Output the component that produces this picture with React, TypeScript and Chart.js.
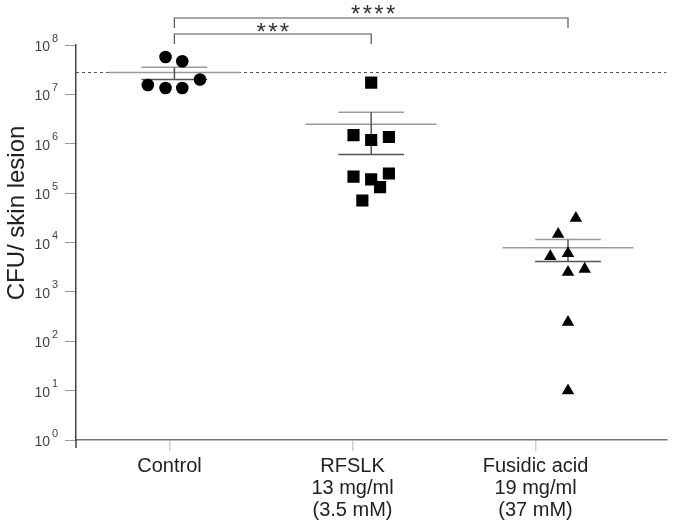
import React, { useEffect, useRef } from 'react';
import { Chart, registerables } from 'chart.js';

Chart.register(...registerables);

const FONT = '"Liberation Sans", Arial, Helvetica, sans-serif';

// Category labels (multi-line) and where their ticks sit on the x scale
const categories: string[][] = [
  ['Control'],
  ['RFSLK', '13 mg/ml', '(3.5 mM)'],
  ['Fusidic acid', '19 mg/ml', '(37 mM)'],
];
const categoryTickPositions = [0.975, 1.905, 2.835];
const groupCenters = [1, 2, 3];

// Individual CFU counts per skin lesion
const controlValues = [5.7e7, 4.7e7, 2.0e7, 1.55e7, 1.35e7, 1.35e7];
const controlOffsets = [-0.045, 0.04, 0.13, -0.135, -0.045, 0.04];

const rfslkValues = [1.73e7, 1.5e6, 1.37e6, 1.19e6, 2.16e5, 2.5e5, 1.9e5, 1.32e5, 7.1e4];
const rfslkOffsets = [0, -0.09, 0.09, 0, -0.09, 0.09, 0, 0.045, -0.045];

const fusidicValues = [3.1e4, 1.47e4, 5.2e3, 6.0e3, 2.9e3, 2.5e3, 244, 10];
const fusidicOffsets = [0.04, -0.05, -0.09, 0, 0.085, 0, 0, 0];

// y axis tick exponents (10^n)
const yTickExponents = [0, 1, 2, 3, 4, 5, 6, 7, 8];

// significance brackets
const significance = [
  { from: 0, to: 1, label: '***', level: 0 },
  { from: 0, to: 2, label: '****', level: 1 },
];

const groups = [
  { values: controlValues, offsets: controlOffsets, style: 'circle', radius: 6.3 },
  { values: rfslkValues, offsets: rfslkOffsets, style: 'rect', radius: 8.6 },
  { values: fusidicValues, offsets: fusidicOffsets, style: 'triangle', radius: 7.2 },
];

function meanSem(v: number[]) {
  const n = v.length;
  const m = v.reduce((a, b) => a + b, 0) / n;
  const sd = Math.sqrt(v.reduce((a, b) => a + (b - m) * (b - m), 0) / (n - 1));
  return { mean: m, sem: sd / Math.sqrt(n) };
}

const stats = groups.map((g) => meanSem(g.values));

const overlayPlugin = {
  id: 'overlay',
  beforeDatasetsDraw(chart: any) {
    const { ctx, chartArea, scales } = chart;
    const x = scales.x;
    const y = scales.y;
    ctx.save();
    // dotted reference line at control mean
    const ry = Math.round(y.getPixelForValue(stats[0].mean)) + 0.5;
    ctx.setLineDash([3, 3]);
    ctx.strokeStyle = '#555';
    ctx.lineWidth = 1;
    ctx.beginPath();
    ctx.moveTo(chartArea.left, ry);
    ctx.lineTo(chartArea.right, ry);
    ctx.stroke();
    ctx.setLineDash([]);

    stats.forEach((s, i) => {
      const c = groupCenters[i];
      const cx = x.getPixelForValue(c);
      const my = y.getPixelForValue(s.mean);
      const ty = y.getPixelForValue(s.mean + s.sem);
      const by = y.getPixelForValue(s.mean - s.sem);
      // mean line
      ctx.strokeStyle = '#9a9a9a';
      ctx.lineWidth = 1.5;
      ctx.beginPath();
      ctx.moveTo(x.getPixelForValue(c - 0.333), my);
      ctx.lineTo(x.getPixelForValue(c + 0.333), my);
      ctx.stroke();
      // SEM
      ctx.strokeStyle = '#9a9a9a';
      ctx.beginPath();
      ctx.moveTo(x.getPixelForValue(c - 0.167), ty);
      ctx.lineTo(x.getPixelForValue(c + 0.167), ty);
      ctx.stroke();
      ctx.strokeStyle = '#555';
      ctx.beginPath();
      ctx.moveTo(x.getPixelForValue(c - 0.167), by);
      ctx.lineTo(x.getPixelForValue(c + 0.167), by);
      ctx.moveTo(cx, ty);
      ctx.lineTo(cx, by);
      ctx.stroke();
    });
    ctx.restore();
  },
  afterDraw(chart: any) {
    const { ctx, chartArea, scales } = chart;
    const x = scales.x;
    const y = scales.y;
    ctx.save();

    // y axis extension below x axis
    ctx.strokeStyle = '#444';
    ctx.lineWidth = 1.5;
    ctx.beginPath();
    ctx.moveTo(chartArea.left, chartArea.bottom);
    ctx.lineTo(chartArea.left, chartArea.bottom + 8);
    ctx.stroke();

    // y tick labels 10^n
    ctx.fillStyle = '#444';
    yTickExponents.forEach((e) => {
      const py = y.getPixelForValue(Math.pow(10, e));
      ctx.font = `14px ${FONT}`;
      ctx.textAlign = 'right';
      ctx.textBaseline = 'alphabetic';
      ctx.fillText('10', chartArea.left - 26, py + 6);
      ctx.font = `11px ${FONT}`;
      ctx.textAlign = 'left';
      ctx.fillText(String(e), chartArea.left - 24, py - 3.5);
    });

    // y title
    ctx.save();
    ctx.translate(17, 213);
    ctx.rotate(-Math.PI / 2);
    ctx.font = `24px ${FONT}`;
    ctx.fillStyle = '#222';
    ctx.textAlign = 'center';
    ctx.textBaseline = 'middle';
    ctx.fillText('CFU/ skin lesion', 0, 0);
    ctx.restore();

    // significance brackets
    significance.forEach((s) => {
      const x1 = x.getPixelForValue(groupCenters[s.from]);
      const x2 = x.getPixelForValue(groupCenters[s.to]);
      const by = s.level === 0 ? chartArea.top - 11 : chartArea.top - 27;
      const leg = 10;
      ctx.strokeStyle = '#555';
      ctx.lineWidth = 1.2;
      ctx.beginPath();
      ctx.moveTo(x1, by + leg);
      ctx.lineTo(x1, by);
      ctx.lineTo(x2, by);
      ctx.lineTo(x2, by + leg);
      ctx.stroke();
      ctx.fillStyle = '#333';
      ctx.font = `24px ${FONT}`;
      (ctx as any).letterSpacing = '2.4px';
      ctx.textAlign = 'center';
      ctx.textBaseline = 'alphabetic';
      const tx = s.level === 0 ? (x1 + x2) / 2 : x.getPixelForValue(2.01);
      ctx.fillText(s.label, tx + 1.2, by + (s.level === 0 ? 5.7 : 4));
      (ctx as any).letterSpacing = '0px';
    });
    ctx.restore();
  },
};

export default function App() {
  const ref = useRef<HTMLCanvasElement>(null);
  useEffect(() => {
    if (!ref.current) return;
    const datasets = groups.map((g, gi) => ({
      data: g.values.map((v, i) => ({ x: groupCenters[gi] + g.offsets[i], y: v })),
      pointStyle: g.style as any,
      pointRadius: g.radius,
      pointBackgroundColor: '#000',
      pointBorderColor: '#000',
      pointBorderWidth: 0,
      showLine: false,
    }));
    const chart = new Chart(ref.current, {
      type: 'scatter',
      data: { datasets },
      options: {
        responsive: false,
        animation: false,
        layout: { padding: { left: 0, top: 45, right: 5, bottom: 0 } },
        plugins: { legend: { display: false }, tooltip: { enabled: false } },
        scales: {
          x: {
            type: 'linear',
            min: 0.5,
            max: 3.5,
            afterBuildTicks: (s: any) => {
              s.ticks = categoryTickPositions.map((v) => ({ value: v }));
            },
            afterFit: (s: any) => {
              s.height = 87;
            },
            grid: { drawOnChartArea: false, drawTicks: true, tickLength: 11, color: '#cfcfcf', lineWidth: 1.5 },
            border: { color: '#777', width: 1.5 },
            ticks: {
              callback: (_v: any, i: number) => categories[i],
              font: { family: FONT, size: 20, lineHeight: 1.1 },
              color: '#222',
              padding: 4,
              maxRotation: 0,
              autoSkip: false,
            },
          },
          y: {
            type: 'logarithmic',
            min: 1,
            max: 1e8,
            afterBuildTicks: (s: any) => {
              s.ticks = yTickExponents.map((e) => ({ value: Math.pow(10, e) }));
            },
            afterFit: (s: any) => {
              s.width = 76;
            },
            grid: { drawOnChartArea: false, drawTicks: true, tickLength: 11, color: '#999', lineWidth: 1 },
            border: { color: '#444', width: 1.5 },
            ticks: { callback: () => '', autoSkip: false },
          },
        },
      },
      plugins: [overlayPlugin],
    });
    return () => chart.destroy();
  }, []);
  return (
    <div style={{ position: 'fixed', left: 0, top: 0, width: 675, height: 527, background: '#fff' }}>
      <canvas ref={ref} width={675} height={527} style={{ display: 'block' }} />
    </div>
  );
}
